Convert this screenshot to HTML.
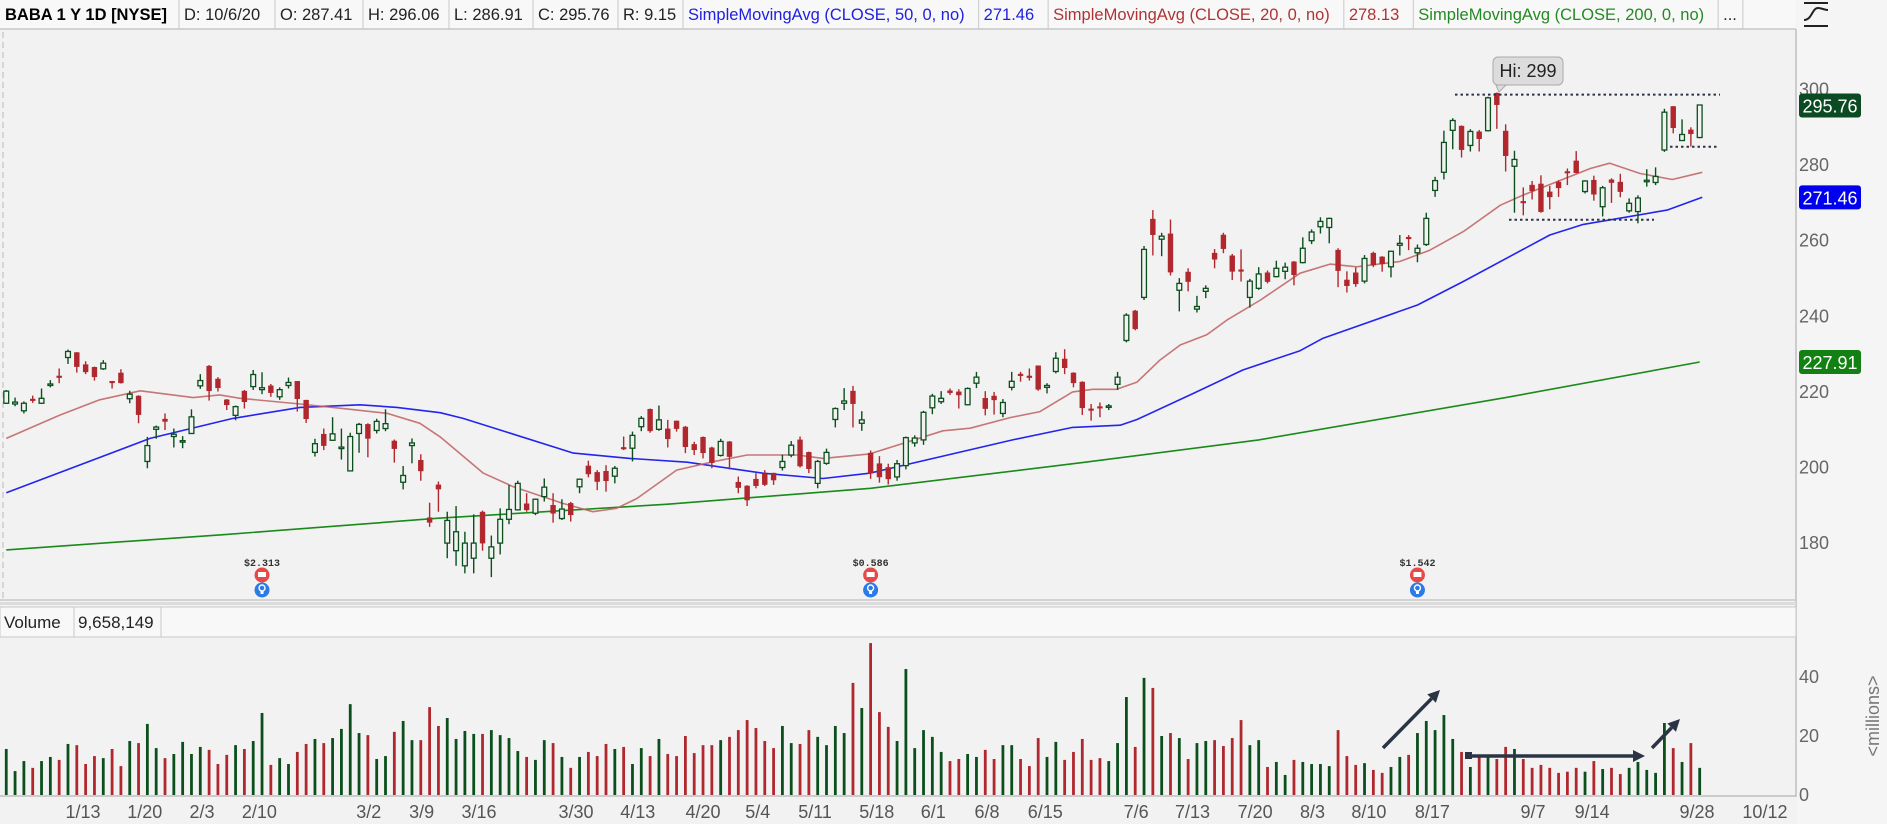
<!DOCTYPE html>
<html><head><meta charset="utf-8"><style>
html,body{margin:0;padding:0;background:#f2f2f2;}
svg{display:block;font-family:"Liberation Sans","DejaVu Sans",sans-serif;}
</style></head><body>
<svg id="chart" width="1887" height="824" viewBox="0 0 1887 824" xmlns="http://www.w3.org/2000/svg">
  <rect x="0" y="0" width="1887" height="824" fill="#f2f2f2"/>
  <rect x="1797" y="0" width="90" height="824" fill="#f5f5f5"/>
  <g>
    <rect x="0" y="0" width="1796" height="29" fill="#f8f8f8"/>
    <line x1="0" y1="29" x2="1796" y2="29" stroke="#c8c8c8" stroke-width="1.5"/>
    <g id="hdr"></g>
  </g>
  <g stroke="#222" stroke-width="2" fill="none">
    <line x1="1804" y1="3" x2="1828" y2="3"/>
    <line x1="1804" y1="26" x2="1828" y2="26"/>
    <path d="M1804 20 C1812 20 1812 8 1818 8 C1822 8 1824 10 1828 10"/>
  </g>
  <line x1="3" y1="32" x2="3" y2="598" stroke="#bbb" stroke-dasharray="6,4"/>
  <line x1="1796" y1="29" x2="1796" y2="797" stroke="#c0c0c0" stroke-width="1.5"/>
  <line x1="0" y1="600" x2="1796" y2="600" stroke="#c8c8c8" stroke-width="1.5"/>
  <rect x="0" y="602" width="1796" height="3" fill="#dcdcdc"/>
  <g>
    <rect x="0" y="607" width="1796" height="30" fill="#f8f8f8" stroke="#c8c8c8"/>
    <text x="4" y="628" font-size="17" fill="#222">Volume</text>
    <line x1="74" y1="607" x2="74" y2="637" stroke="#c8c8c8"/>
    <text x="78" y="628" font-size="17" fill="#222">9,658,149</text>
    <line x1="161" y1="607" x2="161" y2="637" stroke="#c8c8c8"/>
  </g>
  <line x1="0" y1="796" x2="1796" y2="796" stroke="#c0c0c0" stroke-width="1.5"/>
  <g id="sma"></g>
  <g id="candles"></g>
  <g id="vols"></g>
  <g id="axes"></g>
  <g id="ann"></g>
</svg>
<script>
const NS="http://www.w3.org/2000/svg";
// ---- data ----
const opens=[217.0,216.8,215.0,218.1,217.0,221.7,224.2,229.1,230.4,227.2,226.5,226.1,222.8,225.0,218.2,218.9,201.6,210.1,212.8,208.2,206.9,209.0,221.6,226.8,223.4,217.9,213.8,220.2,221.4,220.6,221.6,218.7,221.7,222.8,217.8,204.0,208.8,207.2,205.2,199.1,209.0,211.4,209.8,210.3,207.0,196.1,205.8,201.9,186.7,195.4,
180,178,174,176,188.2,176,180,186.3,188.8,190.4,187.9,192.3,190.0,186.5,190.5,194.9,200.4,198.7,199.0,197.7,205.3,205.1,210.8,215.4,210.1,210.2,212.3,210.7,206.1,208.0,205.2,203.2,206.8,196.1,195.1,196.9,198.2,198.5,200.0,203.3,207.3,204.0,195.8,201.1,212.7,217.0,220.2,211.7,
203.8,201,200,197.5,200.5,206.5,207.3,215.8,217.4,220.3,220.0,216.6,222.3,218.3,218.9,214.3,221.2,224.7,224.2,226.9,221.2,225.4,228.7,225.0,222.6,215.5,216.1,216.1,222.0,233.6,241.4,245.0,265.7,260.4,261.8,246.9,251.7,241.9,246.6,256.7,261.5,256.0,252.3,245.0,247.4,251.5,250.5,251.9,254.4,
254.2,260.0,263.7,263.5,257.5,249.6,251.5,249.3,256.7,255.7,253.1,258.8,260.9,256.8,259.0,273.3,278.1,289.2,290.3,285.2,288.8,289.1,299.0,289.0,279.7,270.4,274.7,275.0,272.9,275.5,278.3,281.1,273.0,276.0,269.0,276.1,275.5,267.9,267.7,275.8,275.4,284.0,295.5,286.5,289.3,287.3];
const highs=[220.5,218.5,217.5,219.0,220.9,223.1,226.2,231.2,230.5,228.1,226.7,228.4,222.9,226.0,220.3,219.1,208.1,211.1,214.3,210.3,208.3,215.4,224.7,227.1,223.9,218.1,216.4,220.5,225.8,225.2,222.1,221.2,223.8,222.8,217.9,207.6,210.3,213.3,210.3,209.2,211.8,211.7,212.9,215.4,207.4,200.4,207.7,203.5,190.7,196.3,
188.3,189.8,183,187.6,188.6,182,189.2,195.4,196.5,193.2,191.8,197.1,193.2,191.6,190.9,197.1,201.8,199.3,200.6,200.4,208.2,209.5,213.6,215.6,216.4,212.6,212.4,211.0,206.8,208.2,205.5,207.6,207.0,197.6,195.3,198.5,199.3,198.6,203.4,207.0,208.2,204.2,202.0,205.0,215.9,221.0,221.6,214.9,
204.5,203,201,202,208.2,208.5,215.0,219.5,220.2,220.9,220.7,221.2,225.3,220.2,220.0,218.1,225.3,225.3,226.2,227.0,222.3,230.5,231.3,225.2,222.8,216.8,217.2,216.8,225.3,240.8,241.7,258.6,268.1,262.1,265.6,250.1,252.7,245.4,248.2,257.8,262.1,256.5,257.7,249.9,253.0,252.1,254.7,254.2,254.6,
260.9,263.0,266.2,266.1,258.0,251.9,252.9,256.2,257.1,255.9,257.3,261.5,261.5,259.0,267.4,276.9,289.1,292.4,290.5,289.5,289.3,298.1,299.2,290.8,283.8,274.1,275.8,277.3,274.5,276.0,279.1,283.7,276.0,277.2,274.5,276.5,277.7,271.2,272.0,278.9,279.4,294.9,295.6,292.1,290.0,296.0];
const lows=[216.8,216.2,214.3,217.1,216.8,221.2,222.3,227.4,225.1,224.7,223.0,225.8,220.9,222.2,217.0,211.7,199.8,207.6,209.9,205.3,205.1,208.9,220.8,217.7,220.1,215.2,212.5,215.6,220.5,219.4,218.7,217.9,220.9,214.8,211.8,202.9,204.6,207.1,202.1,199.0,203.9,202.7,209.0,209.6,201.3,194.2,201.1,196.5,184.3,188.3,
176,174,172,172,178,171,177,185.0,188.6,188.3,187.4,191.0,185.4,186.1,185.7,193.2,197.4,194.0,193.6,195.8,204.6,201.6,209.6,209.2,209.7,205.3,209.5,203.8,203.3,202.4,199.8,202.9,199.5,193.2,189.8,194.5,195.1,195.4,199.2,202.7,200.0,198.5,194.5,200.7,210.6,215.2,210.6,209.7,
197,196,195.5,196.5,199.5,205.5,206.0,214.1,216.8,219.2,215.6,216.5,221.0,213.8,214.0,213.3,220.4,222.7,223.0,220.3,219.6,224.9,224.7,221.2,213.9,212.4,213.3,215.2,220.5,233.1,236.3,244.3,256.1,255.9,250.8,241.3,246.6,241.0,244.8,252.7,256.7,249.6,249.2,242.3,247.0,248.7,250.3,249.8,248.2,
254.0,259.1,261.9,259.3,247.7,246.3,247.8,248.7,253.0,251.8,250.3,256.1,257.5,254.3,258.6,271.6,276.2,284.2,282.0,283.6,283.6,288.9,289.6,278.3,267.4,266.7,270.9,267.4,268.3,271.6,274.7,277.8,272.5,270.6,266.4,270.0,271.5,267.4,264.6,274.3,274.7,283.5,288.4,286.5,284.9,287.1];
const closes=[220.2,217.3,217.0,217.8,218.3,222.1,224.0,230.7,226.7,225.3,224.0,227.6,222.4,222.4,219.4,214.0,205.8,210.7,212.2,208.8,207.1,213.4,223.0,220.3,221.1,216.6,216.1,217.4,224.6,221.1,219.8,220.6,222.5,218.2,212.9,206.3,205.8,208.9,205.4,208.2,211.4,207.7,212.2,211.6,205.0,197.9,206.5,199.1,185.5,194.3,
186,183,180,180,180,179,186.3,188.9,195.8,188.8,191.6,194.8,187.9,189.0,187.5,196.9,198.3,196.3,196.5,199.8,205.0,208.5,213.0,209.7,212.6,207.6,210.3,205.5,204.7,203.9,201.3,206.9,202.9,194.7,191.4,195.2,195.5,196.7,201.6,205.9,200.4,199.7,201.6,204.0,215.6,217.6,216.9,212.6,
198.5,197.5,197,201,207.9,207.8,214.6,218.9,218.3,219.8,219.2,220.9,223.9,215.6,217.9,217.2,222.8,224.3,223.8,220.7,221.7,228.9,226.4,222.4,215.8,215.3,215.9,216.3,223.9,240.3,236.7,257.7,261.6,261.2,251.7,248.7,249.2,242.6,247.4,255.1,257.9,251.9,252.1,249.3,251.2,249.2,252.7,253.0,251.0,
258.0,262.3,265.1,265.9,252.1,248.1,248.6,255.3,253.6,253.9,257.2,259.3,260.5,258.0,265.9,275.9,286.0,291.8,284.1,288.9,287.0,297.8,296.0,282.5,281.5,270.0,273.2,267.7,271.6,274.0,278.0,278.0,275.8,272.3,274.0,275.4,273.0,269.9,271.3,276.0,277.0,294.0,289.9,288.1,288.3,295.9];
const volumes=[15.6,8.1,11.5,9.2,11.5,12.9,11.9,17.3,16.9,10.5,13.2,12.5,15.6,9.8,18.3,17.6,24.1,15.9,12.5,13.9,18.0,13.9,16.3,15.3,10.5,13.6,16.9,15.6,18.3,27.8,10.2,12.5,10.5,14.6,17.3,19.0,17.6,19.3,22.4,30.8,21.0,20.3,12.2,13.2,21.4,25.1,18.6,18.6,29.8,23.4,26.1,19.0,21.7,20.7,20.7,22.0,20.3,19.3,14.9,12.9,11.9,18.6,17.6,12.9,9.2,12.9,14.6,13.2,17.3,15.6,16.3,10.5,15.9,13.2,19.0,13.9,13.2,20.0,14.2,
16.9,16.9,18.6,19.7,22.0,25.4,22.7,18.3,15.9,23.4,17.6,17.3,22.0,19.7,16.9,23.4,21.0,38.0,29.5,51.5,28.1,23.1,18.3,42.7,15.9,22.0,19.7,14.6,11.5,12.2,13.9,12.9,15.3,12.2,16.9,16.9,12.2,9.8,19.3,12.9,18.0,11.9,14.6,19.0,11.9,12.5,11.5,17.6,33.2,16.3,39.7,36.3,20.0,21.0,19.3,12.2,17.6,18.3,18.6,16.6,19.3,25.4,16.9,18.6,9.5,11.2,6.8,11.9,11.2,10.5,10.5,9.8,22.0,13.2,10.2,10.8,8.5,7.5,
9.5,12.9,13.6,21.0,25.1,22.0,27.1,19.0,14.6,9.5,12.9,13.6,12.2,16.3,15.6,12.2,9.2,10.2,9.2,7.5,7.9,9.2,7.9,11.5,8.8,9.2,7.1,9.2,11.2,8.5,7.5,24.4,15.9,11.2,17.6,9.2];
const sma20Idx=[0,6.1,10.6,15.2,21.2,24.2,26.5,33.3,39,43.2,46.9,49.2,54.1,57.5,63.1,66.5,69.2,71.5,76,80.1,84,89.7,92.6,97.9,106.2,109.3,113.8,117.2,120.9,123.2,125.9,128.2,130.8,133.1,136.1,138.4,142.2,146.7,150.1,153.1,158,161.4,165.2,169.4,172,175.8,179.6,181.8,185.2,188.9,192.3];
const sma20Val=[207.7,213.9,217.9,220.3,218.5,219.2,218.3,216.8,215.4,214.3,211.7,208.1,198.5,194.9,190.5,188.3,189.2,191.8,199.3,201.5,203.3,203.3,202.4,203.6,209.7,210.4,213.2,214.8,220.0,220.7,220.7,222.6,228.4,232.4,235.1,239.0,244.3,251.4,253.8,253.1,254.5,257.5,262.4,269.4,272.1,275.6,279.1,280.5,277.8,276.2,278.1];
const sma50Idx=[0,16.3,25.7,33.3,40.1,44.3,49.2,51.8,64.3,70.7,77.2,85.8,92.6,97.9,114.1,120.9,126.3,128.2,134.6,140.2,146.7,149.3,160,165.2,175,178.8,188.3,192.3];
const sma50Val=[193.3,207.7,213.0,215.9,216.6,215.9,214.5,213.0,203.8,202.4,201.4,198.5,197.1,198.5,207.3,210.6,211.2,212.7,219.6,225.8,230.9,234.2,243.0,249.2,261.5,264.3,268.1,271.5];
const sma200Idx=[0,25,49,75,98,122,142,170,192];
const sma200Val=[178.2,182.3,186.6,190.3,194.5,201.3,207.3,218.5,227.9];
const priceTicks=[180,200,220,240,260,280,300];
const volTicks=[0,20,40];
const dateLabels=["1/13","1/20","2/3","2/10","3/2","3/9","3/16","3/30","4/13","4/20","5/4","5/11","5/18","6/1","6/8","6/15","7/6","7/13","7/20","8/3","8/10","8/17","9/7","9/14","9/28","10/12"];
const dateIdx=[8.7,15.7,22.2,28.7,41.1,47.1,53.6,64.6,71.6,79,85.2,91.7,98.7,105.1,111.2,117.8,128.1,134.5,141.6,148.1,154.5,161.7,173.1,179.8,191.7,199.4];
const divIdx=[29,98,160];
const divLabels=["$2.313","$0.586","$1.542"];
const hiIdx=169, hiVal=299;

// ---- scales ----
const px=i=>6.25+i*8.82;
const py=p=>89.5+(300-p)*3.78;
const vy=v=>795-v*2.95;
function el(tag,attrs,parent){const e=document.createElementNS(NS,tag);for(const k in attrs)e.setAttribute(k,attrs[k]);parent.appendChild(e);return e;}
const G="#0b4f1c", R="#b0282e";

// header
const hdr=document.getElementById('hdr');
const cells=[["BABA 1 Y 1D [NYSE]","#000",true,179],["D: 10/6/20","#222",false,96],["O: 287.41","#222",false,88],["H: 296.06","#222",false,86],["L: 286.91","#222",false,84],["C: 295.76","#222",false,85],["R: 9.15","#222",false,65],
["SimpleMovingAvg (CLOSE, 50, 0, no)","#2020e0",false,0],["271.46","#2020e0",false,0],["SimpleMovingAvg (CLOSE, 20, 0, no)","#b03333",false,0],["278.13","#b03333",false,0],["SimpleMovingAvg (CLOSE, 200, 0, no)","#238a23",false,0],["...","#222",false,0]];
let hx=0;
cells.forEach((c,k)=>{
  const t=el('text',{x:hx+5,y:20,'font-size':16.5,fill:c[1],'font-weight':c[2]?'bold':'normal'},hdr);
  
  
  t.textContent=c[0];
  let w=c[3]; if(!w){w=t.getComputedTextLength()+(k<cells.length-1?19:11);}
  hx+=w;
  el('line',{x1:hx,y1:0,x2:hx,y2:29,stroke:'#c8c8c8'},hdr);
});

// SMA lines
const sg=document.getElementById('sma');
function line(idx,val,color,name,op){
  const d=idx.map((i,k)=>(k?'L':'M')+px(i).toFixed(1)+' '+py(val[k]).toFixed(1)).join(' ');
  const p=el('path',{d:d,fill:'none',stroke:color,'stroke-width':1.6,'stroke-opacity':op,'stroke-linejoin':'round'},sg);
  
  
}
line(sma200Idx,sma200Val,'#1a8a1a','sma200-line',1);
line(sma50Idx,sma50Val,'#2424f0','sma50-line',1);
line(sma20Idx,sma20Val,'#c06060','sma20-line',0.85);

// candles
const cg=document.getElementById('candles');
closes.forEach((c,i)=>{
  const o=opens[i],up=c>=o,col=up?G:R,x=px(i);
  const g=el('g',{},cg);
  
  
  el('line',{x1:x,y1:py(highs[i]),x2:x,y2:py(lows[i]),stroke:col,'stroke-width':1.4},g);
  const t=py(Math.max(o,c)),b=py(Math.min(o,c));
  el('rect',{x:x-2.4,y:t,width:4.8,height:Math.max(b-t,1.5),fill:up?'#f2f2f2':col,stroke:col,'stroke-width':up?1.3:0.6},g);
});

// volume
const vg=document.getElementById('vols');
volumes.forEach((v,i)=>{
  const up=closes[i]>=opens[i];
  const r=el('rect',{x:px(i)-1.4,y:vy(v),width:2.8,height:795-vy(v),fill:up?G:R},vg);
  
  
});

// axes
const ag=document.getElementById('axes');
priceTicks.forEach(p=>{
  const t=el('text',{x:1799,y:py(p)+6,'font-size':18,fill:'#666'},ag);
  
  
  t.textContent=p;
});
volTicks.forEach(v=>{
  const t=el('text',{x:1799,y:vy(v)+6,'font-size':18,fill:'#666'},ag);
  
  
  t.textContent=v;
});
dateLabels.forEach((d,k)=>{
  const t=el('text',{x:px(dateIdx[k]),y:818,'font-size':18,fill:'#555','text-anchor':'middle'},ag);
  
  
  t.textContent=d;
});
const mil=el('text',{x:0,y:0,'font-size':18,fill:'#777','text-anchor':'middle',transform:'translate(1879,716) rotate(-90)'},ag);


mil.textContent='<millions>';
function tag(val,color,name){
  const y=py(val);
  const r=el('rect',{x:1799,y:y-12,width:62,height:24,rx:3,fill:color},ag);
  
  
  const t=el('text',{x:1830,y:y+7,'font-size':18,fill:'#fff','text-anchor':'middle'},ag);
  
  
  t.textContent=val.toFixed(2);
}
tag(closes[closes.length-1]-0.14,'#0b4a22','last-price-tag');
tag(sma50Val[sma50Val.length-1]-0.04,'#0000ee','sma50-tag');
tag(sma200Val[sma200Val.length-1]+0.01,'#128012','sma200-tag');

// annotations
const an=document.getElementById('ann');
const dl=[[1455,1720,py(hiVal)+1.4],[1670,1718,146.7],[1509,1654,219.7]];
dl.forEach(a=>{
  const l=el('line',{x1:a[0],y1:a[2],x2:a[1],y2:a[2],stroke:'#2b3445','stroke-width':2,'stroke-dasharray':'2.5,3'},an);
  
  
});
const hb=el('g',{},an);


el('path',{d:'M1496 85 L1499 92 L1506 85',fill:'#ddd',stroke:'#aaa'},hb);
el('rect',{x:1493,y:57,width:70,height:28,rx:5,fill:'#dcdcdc',stroke:'#aaa'},hb);
const ht=el('text',{x:1528,y:77,'font-size':18,fill:'#222','text-anchor':'middle'},hb);
ht.textContent='Hi: '+hiVal;
divIdx.forEach((i,k)=>{
  const x=px(i);
  const g=el('g',{},an);
  
  
  const t=el('text',{x:x,y:566,'font-size':10,fill:'#333','text-anchor':'middle','font-family':'Liberation Mono, monospace','font-weight':'bold'},g);
  t.textContent=divLabels[k];
  el('circle',{cx:x,cy:575,r:7.5,fill:'#e84848'},g);
  el('rect',{x:x-4,y:572,width:8,height:5,fill:'#fff'},g);
  el('circle',{cx:x,cy:590,r:7.5,fill:'#2a7ae8'},g);
  el('circle',{cx:x,cy:588,r:3,fill:'none',stroke:'#fff','stroke-width':1.4},g);
  el('rect',{x:x-1.5,y:591,width:3,height:3,fill:'#fff'},g);
});
function arrow(x1,y1,x2,y2,name){
  const g=el('g',{},an);
  
  
  const a=Math.atan2(y2-y1,x2-x1),L=12,W=6;
  const bx=x2-L*Math.cos(a),by=y2-L*Math.sin(a);
  el('line',{x1:x1,y1:y1,x2:bx,y2:by,stroke:'#2b3445','stroke-width':3.5},g);
  el('path',{d:`M${x2} ${y2} L${bx+W*Math.sin(a)} ${by-W*Math.cos(a)} L${bx-W*Math.sin(a)} ${by+W*Math.cos(a)} Z`,fill:'#2b3445'},g);
}
arrow(1383,748,1440,690,'volume-rising-arrow-1');
arrow(1469,756,1645,756,'volume-flat-arrow');
el('rect',{x:1465,y:752,width:7,height:7,fill:'#2b3445'},an);
arrow(1652,748,1680,719,'volume-rising-arrow-2');
</script>
</body></html>
